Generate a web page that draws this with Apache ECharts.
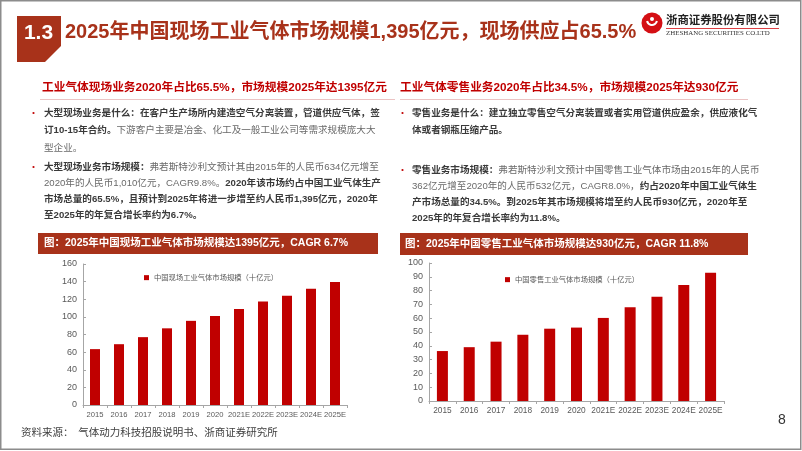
<!DOCTYPE html>
<html>
<head>
<meta charset="utf-8">
<script src="https://cdn.jsdelivr.net/npm/echarts@6/dist/echarts.min.js"></script>
<style>
  html, body { margin: 0; padding: 0; background: #fff; }
  #main { width: 802px; height: 451px; }
</style>
</head>
<body>
<div id="main"></div>
<script>
// 年份（横轴）
const years = ['2015', '2016', '2017', '2018', '2019', '2020', '2021E', '2022E', '2023E', '2024E', '2025E'];
// 中国现场工业气体市场规模（十亿元）
const onsiteValues = [63.4, 69, 77, 87, 95.5, 101, 109, 117.4, 124, 132, 139.5];
// 中国零售工业气体市场规模（十亿元）
const retailValues = [36.2, 39, 43, 48, 52.4, 53.2, 60.2, 68, 75.6, 84, 93];
const onsiteName = '中国现场工业气体市场规模（十亿元）';
const retailName = '中国零售工业气体市场规模（十亿元）';

const FONT = '"Liberation Sans", "Noto Sans CJK SC", sans-serif';
const DARK_RED = '#A8321A';
const BAR_RED = '#C00000';

const chart = echarts.init(document.getElementById('main'));

function textLine(x, y, rich, parts, size) {
  return {
    type: 'text', x: x, y: y,
    style: {
      text: parts.map(p => '{' + p[0] + '|' + p[1] + '}').join(''),
      rich: rich,
      verticalAlign: 'middle',
      font: size + 'px ' + FONT
    }
  };
}

const bodyRich = {
  b: { fill: '#3a3a3a', fontWeight: 'bold', fontSize: 9.6, fontFamily: FONT },
  n: { fill: '#6a6a6a', fontSize: 9.6, fontFamily: FONT }
};

function bullet(x, y) {
  return { type: 'circle', shape: { cx: x, cy: y, r: 1.1 }, style: { fill: '#C00000' } };
}

function axisOpts(grid, max, interval) {
  return {
    type: 'value', gridIndex: grid, min: 0, max: max, interval: interval,
    axisLine: { show: true, lineStyle: { color: '#A6A6A6' } },
    axisTick: { show: true, inside: true, length: 3, lineStyle: { color: '#A6A6A6' } },
    splitLine: { show: false },
    axisLabel: { color: '#595959', fontSize: 9, fontFamily: FONT, margin: 6 }
  };
}

function catOpts(grid, size) {
  return {
    type: 'category', gridIndex: grid, data: years,
    axisLine: { show: true, lineStyle: { color: '#A6A6A6' } },
    axisTick: { show: true, length: 3, lineStyle: { color: '#A6A6A6' } },
    axisLabel: { color: '#595959', fontSize: size, fontFamily: FONT, margin: 6, interval: 0 }
  };
}

const graphics = [
  // 页面边框
  { type: 'rect', shape: { x: 0.75, y: 0.75, width: 800, height: 448.5 },
    style: { fill: 'none', stroke: '#8C8C8C', lineWidth: 1.5 } },
  // 1.3 标号
  { type: 'polygon', shape: { points: [[17, 16], [61, 16], [61, 46], [45, 62], [17, 62]] },
    style: { fill: DARK_RED } },
  { type: 'text', x: 38.5, y: 33, style: { text: '1.3', fill: '#fff', font: 'bold 21px "Liberation Sans", sans-serif',
    align: 'center', verticalAlign: 'middle' } },
  { type: 'text', x: 65, y: 32, style: { text: '2025年中国现场工业气体市场规模1,395亿元，现场供应占65.5%',
    fill: DARK_RED, font: 'bold 20px ' + FONT, verticalAlign: 'middle' } },
  // 公司标志
  { type: 'circle', shape: { cx: 652, cy: 23, r: 10.5 }, style: { fill: '#D40F14' } },
  { type: 'arc', shape: { cx: 652, cy: 20, r: 5, startAngle: 0.2, endAngle: Math.PI - 0.2 },
    style: { stroke: '#fff', lineWidth: 2, fill: 'none' } },
  { type: 'circle', shape: { cx: 652, cy: 19, r: 2 }, style: { fill: '#fff' } },
  { type: 'text', x: 666, y: 19.5, style: { text: '浙商证券股份有限公司', fill: '#222',
    font: 'bold 11.4px "Noto Sans CJK SC", sans-serif', verticalAlign: 'middle' } },
  { type: 'line', shape: { x1: 666, y1: 28.5, x2: 779, y2: 28.5 }, style: { stroke: '#D40F14', lineWidth: 0.8 } },
  { type: 'text', x: 666, y: 33.5, style: { text: 'ZHESHANG SECURITIES CO.LTD', fill: '#333',
    font: '6.9px "Liberation Serif", serif', verticalAlign: 'middle' } },

  // 左栏标题
  { type: 'text', x: 42, y: 88, style: { text: '工业气体现场业务2020年占比65.5%，市场规模2025年达1395亿元',
    fill: '#C00000', font: 'bold 11.7px ' + FONT, verticalAlign: 'middle' } },
  { type: 'line', shape: { x1: 40, y1: 99.5, x2: 395, y2: 99.5 }, style: { stroke: '#EBC3C3', lineWidth: 1 } },
  // 右栏标题
  { type: 'text', x: 400, y: 88, style: { text: '工业气体零售业务2020年占比34.5%，市场规模2025年达930亿元',
    fill: '#C00000', font: 'bold 11.7px ' + FONT, verticalAlign: 'middle' } },
  { type: 'line', shape: { x1: 400, y1: 99.5, x2: 748, y2: 99.5 }, style: { stroke: '#EBC3C3', lineWidth: 1 } },

  // 左栏正文
  bullet(33.5, 113),
  textLine(44, 113, bodyRich, [['b', '大型现场业务是什么：在客户生产场所内建造空气分离装置，管道供应气体，签']], 9.6),
  textLine(44, 130.5, bodyRich, [['b', '订10-15年合约。'], ['n', '下游客户主要是冶金、化工及一般工业公司等需求规模庞大大']], 9.6),
  textLine(44, 148, bodyRich, [['n', '型企业。']], 9.6),
  bullet(33.5, 167),
  textLine(44, 167, bodyRich, [['b', '大型现场业务市场规模：'], ['n', '弗若斯特沙利文预计其由2015年的人民币634亿元增至']], 9.6),
  textLine(44, 183.5, bodyRich, [['n', '2020年的人民币1,010亿元，CAGR9.8%。'], ['b', '2020年该市场约占中国工业气体生产']], 9.6),
  textLine(44, 199.5, bodyRich, [['b', '市场总量的65.5%，且预计到2025年将进一步增至约人民币1,395亿元，2020年']], 9.6),
  textLine(44, 215, bodyRich, [['b', '至2025年的年复合增长率约为6.7%。']], 9.6),

  // 右栏正文
  bullet(402.5, 113),
  textLine(412, 113, bodyRich, [['b', '零售业务是什么：建立独立零售空气分离装置或者实用管道供应盈余，供应液化气']], 9.6),
  textLine(412, 130, bodyRich, [['b', '体或者钢瓶压缩产品。']], 9.6),
  bullet(402.5, 170),
  textLine(412, 170, bodyRich, [['b', '零售业务市场规模：'], ['n', '弗若斯特沙利文预计中国零售工业气体市场由2015年的人民币']], 9.6),
  textLine(412, 186.5, bodyRich, [['n', '362亿元增至2020年的人民币532亿元，CAGR8.0%，'], ['b', '约占2020年中国工业气体生']], 9.6),
  textLine(412, 202.5, bodyRich, [['b', '产市场总量的34.5%。到2025年其市场规模将增至约人民币930亿元，2020年至']], 9.6),
  textLine(412, 218, bodyRich, [['b', '2025年的年复合增长率约为11.8%。']], 9.6),

  // 图标题条
  { type: 'rect', shape: { x: 38, y: 233, width: 340, height: 21 }, style: { fill: DARK_RED } },
  { type: 'text', x: 44, y: 243.5, style: { text: '图：2025年中国现场工业气体市场规模达1395亿元，CAGR 6.7%',
    fill: '#fff', font: 'bold 10.5px ' + FONT, verticalAlign: 'middle' } },
  { type: 'rect', shape: { x: 400, y: 233, width: 348, height: 22 }, style: { fill: DARK_RED } },
  { type: 'text', x: 405, y: 244, style: { text: '图：2025年中国零售工业气体市场规模达930亿元，CAGR 11.8%',
    fill: '#fff', font: 'bold 10.5px ' + FONT, verticalAlign: 'middle' } },

  // 资料来源与页码
  { type: 'text', x: 21, y: 432, style: { text: '资料来源：  气体动力科技招股说明书、浙商证券研究所',
    fill: '#404040', font: '10.5px "Noto Sans CJK SC", sans-serif', verticalAlign: 'middle' } },
  { type: 'text', x: 778, y: 420, style: { text: '8', fill: '#333',
    font: '14px "Liberation Sans", sans-serif', verticalAlign: 'middle' } }
];

chart.setOption({
  animation: false,
  backgroundColor: '#fff',
  grid: [
    { left: 83, right: 455, top: 264, bottom: 46 },
    { left: 429, right: 78, top: 263, bottom: 50 }
  ],
  legend: [
    { data: [onsiteName], left: 139, top: 269, itemWidth: 5, itemHeight: 5, icon: 'rect',
      itemGap: 3, textStyle: { color: '#595959', fontSize: 7.3, fontFamily: '"Noto Sans CJK SC", sans-serif' } },
    { data: [retailName], left: 500, top: 271, itemWidth: 5, itemHeight: 5, icon: 'rect',
      itemGap: 3, textStyle: { color: '#595959', fontSize: 7.3, fontFamily: '"Noto Sans CJK SC", sans-serif' } }
  ],
  xAxis: [catOpts(0, 7.6), catOpts(1, 8.3)],
  yAxis: [axisOpts(0, 160, 20), axisOpts(1, 100, 10)],
  series: [
    { name: onsiteName, type: 'bar', xAxisIndex: 0, yAxisIndex: 0, data: onsiteValues,
      barWidth: 10, itemStyle: { color: BAR_RED } },
    { name: retailName, type: 'bar', xAxisIndex: 1, yAxisIndex: 1, data: retailValues,
      barWidth: 11, itemStyle: { color: BAR_RED } }
  ],
  graphic: graphics
});
</script>
</body>
</html>
